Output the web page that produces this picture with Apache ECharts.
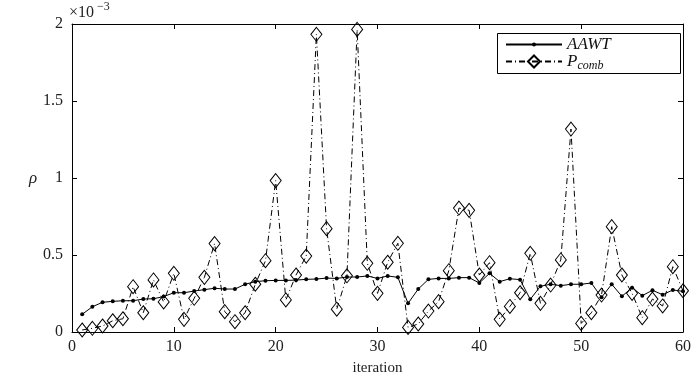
<!DOCTYPE html>
<html>
<head>
<meta charset="utf-8">
<script src="https://cdn.jsdelivr.net/npm/echarts@6/dist/echarts.min.js"></script>
<style>html,body{margin:0;padding:0;background:#fff}#c{width:694px;height:385px}</style>
</head>
<body>
<div id="c"></div>
<script>
// iteration index
const iterations = [1,2,3,4,5,6,7,8,9,10,11,12,13,14,15,16,17,18,19,20,21,22,23,24,25,26,27,28,29,30,
  31,32,33,34,35,36,37,38,39,40,41,42,43,44,45,46,47,48,49,50,51,52,53,54,55,56,57,58,59,60];
// rho values in units of 1e-3
const aawt = [0.115,0.164,0.193,0.199,0.203,0.203,0.214,0.216,0.230,0.255,0.255,0.266,0.275,0.284,0.279,
  0.279,0.310,0.327,0.333,0.335,0.335,0.337,0.342,0.344,0.350,0.348,0.357,0.357,0.364,0.348,
  0.364,0.355,0.186,0.279,0.342,0.348,0.348,0.353,0.353,0.318,0.381,0.327,0.346,0.340,0.212,
  0.297,0.310,0.301,0.310,0.310,0.318,0.225,0.310,0.232,0.288,0.236,0.271,0.242,0.273,0.264];
const pcomb = [0.013,0.024,0.039,0.073,0.086,0.294,0.125,0.338,0.195,0.381,0.082,0.219,0.355,0.574,0.132,
  0.067,0.125,0.310,0.463,0.983,0.208,0.370,0.493,1.933,0.671,0.148,0.365,1.965,0.446,0.251,
  0.453,0.576,0.030,0.052,0.136,0.197,0.398,0.805,0.790,0.370,0.450,0.082,0.166,0.255,0.511,
  0.186,0.305,0.468,1.318,0.056,0.125,0.240,0.684,0.370,0.251,0.093,0.214,0.169,0.424,0.268];
const xTicks = [0,10,20,30,40,50,60];
const yTicks = [0,0.5,1,1.5,2];

const FONT = 'Liberation Serif';
const chart = echarts.init(document.getElementById('c'), null, {renderer:'canvas'});
const pairs = (ys) => iterations.map((x, i) => [x, ys[i]]);
const axisLine = {show:true, onZero:false, lineStyle:{color:'#000', width:1}};
const tick = {show:true, inside:true, length:5, lineStyle:{color:'#000'}};
const legendText = {fontFamily:FONT, fontSize:17, color:'#111', fontStyle:'italic',
  rich:{
    m:{fontFamily:FONT, fontSize:17, fontStyle:'italic', color:'#111'},
    s:{fontFamily:FONT, fontSize:12, fontStyle:'italic', color:'#111', padding:[9,0,0,0]}
  }};
const legendFmt = (n)=> n==='P_comb' ? '{m|P}{s|comb}' : '{m|AAWT}';

chart.setOption({
  animation:false,
  backgroundColor:'#fff',
  grid:{left:72, right:7, top:24, bottom:53, show:false},
  xAxis:[{
    type:'value', min:xTicks[0], max:xTicks[xTicks.length-1], interval:10, position:'bottom',
    name:'iteration', nameLocation:'middle', nameGap:29,
    nameTextStyle:{fontFamily:FONT, fontSize:15, color:'#222'},
    axisLine:axisLine, axisTick:tick, splitLine:{show:false},
    axisLabel:{fontFamily:FONT, fontSize:16, color:'#222', margin:7}
  },{
    type:'value', min:xTicks[0], max:xTicks[xTicks.length-1], interval:10, position:'top',
    axisLine:axisLine, axisTick:tick, splitLine:{show:false}, axisLabel:{show:false}
  }],
  yAxis:[{
    type:'value', min:yTicks[0], max:yTicks[yTicks.length-1], interval:0.5, position:'left',
    axisLine:axisLine, axisTick:tick, splitLine:{show:false},
    axisLabel:{fontFamily:FONT, fontSize:16, color:'#222', margin:9,
      formatter:(v)=> String(v)}
  },{
    type:'value', min:yTicks[0], max:yTicks[yTicks.length-1], interval:0.5, position:'right',
    axisLine:axisLine, axisTick:tick, splitLine:{show:false}, axisLabel:{show:false}
  }],
  legend:[{
    orient:'vertical', left:505, top:36, padding:0,
    itemWidth:56, itemHeight:5, itemGap:0,
    textStyle:legendText, formatter:legendFmt, data:['AAWT']
  },{
    orient:'vertical', left:505, top:53, padding:0,
    itemWidth:56, itemHeight:15, itemGap:0,
    textStyle:legendText, formatter:legendFmt, data:['P_comb']
  }],
  graphic:[
    {type:'rect', left:497, top:33, z:-1, shape:{width:183, height:40},
      style:{fill:'#fff', stroke:'#000', lineWidth:1}},
    {type:'text', left:29, top:170, style:{text:'ρ', font:'italic 17px "Liberation Serif"', fill:'#222'}},
    {type:'text', left:69, top:5, style:{text:'×10', font:'16px "Liberation Serif"', fill:'#222'}},
    {type:'text', left:97, top:1, style:{text:'−3', font:'12px "Liberation Serif"', fill:'#222'}}
  ],
  series:[
    {
      name:'AAWT', type:'line', data:pairs(aawt),
      symbol:'circle', symbolSize:4, showSymbol:true,
      lineStyle:{color:'#000', width:1},
      itemStyle:{color:'#000', borderWidth:0}, z:3
    },
    {
      name:'P_comb', type:'line', data:pairs(pcomb),
      symbol:'diamond', symbolSize:[11,14], showSymbol:true,
      lineStyle:{color:'#000', width:1, type:[6,3,1,3]},
      itemStyle:{color:'rgba(0,0,0,0)', borderColor:'#000', borderWidth:1}, z:2
    }
  ]
});
</script>
</body>
</html>
